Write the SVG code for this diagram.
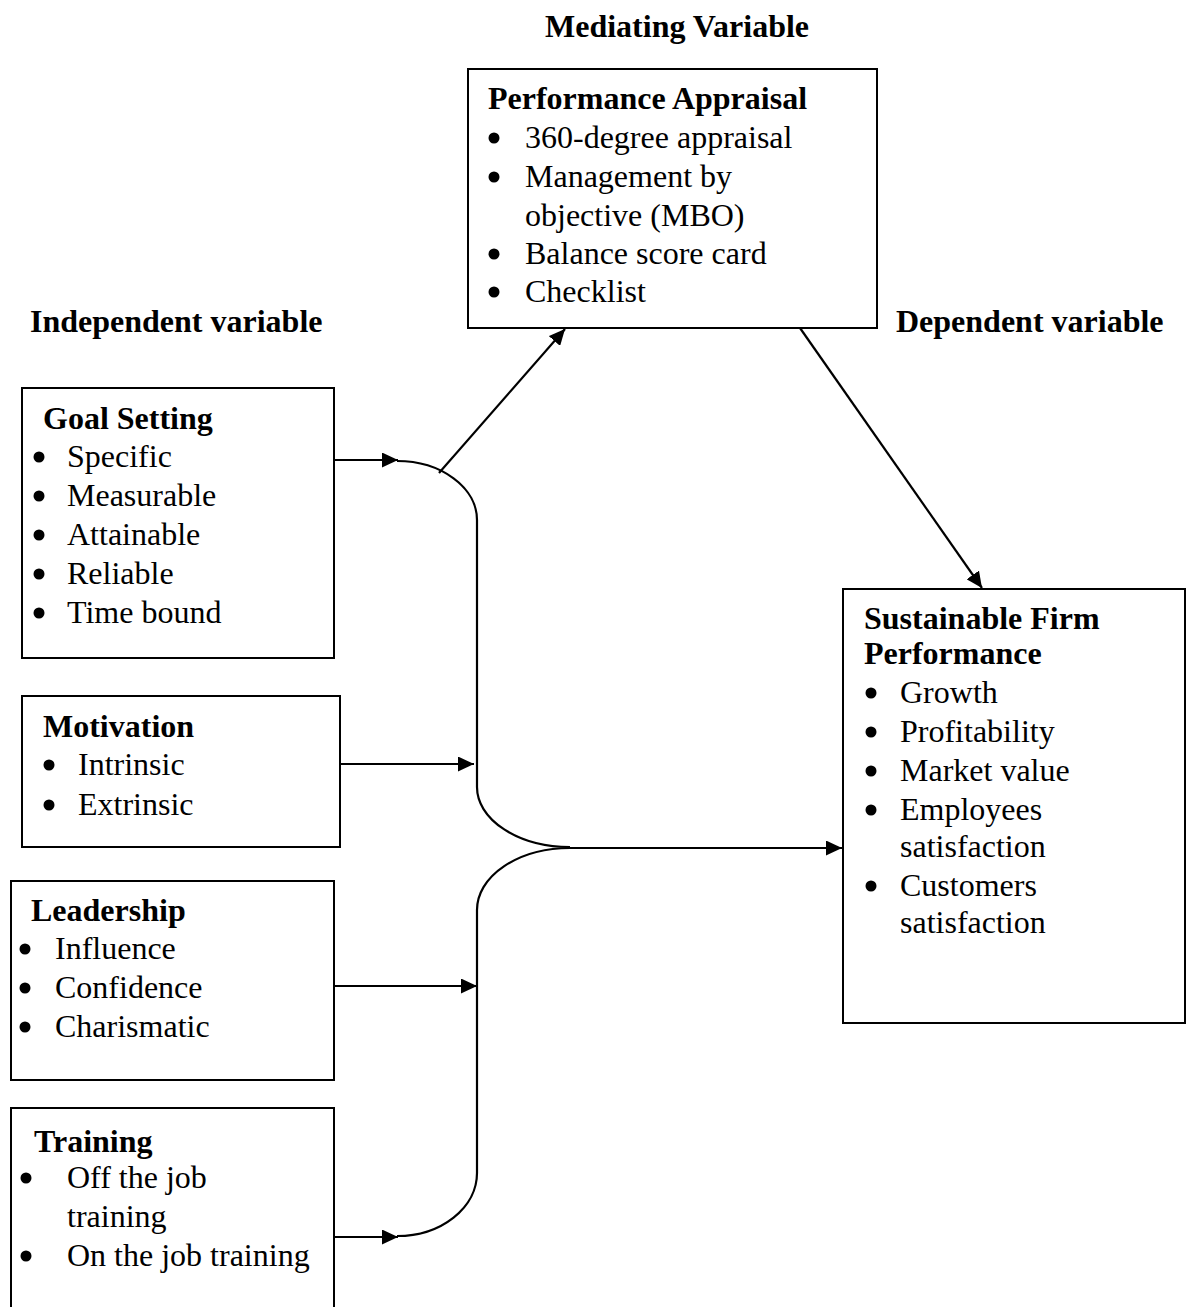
<svg xmlns="http://www.w3.org/2000/svg" width="1186" height="1307" viewBox="0 0 1186 1307">
<style>
text{font-family:"Liberation Serif","Times New Roman",serif;font-size:32px;fill:#000}
.b{font-weight:bold}
.box{fill:none;stroke:#000;stroke-width:2}
.ln{fill:none;stroke:#000;stroke-width:2.2}
.dot{fill:#000}
</style>
<defs>
<marker id="ah" markerUnits="userSpaceOnUse" markerWidth="17" markerHeight="15" refX="16" refY="7.5" orient="auto" viewBox="0 0 17 15">
<path d="M0,0 L16,7.5 L0,15 z" fill="#000"/>
</marker>
</defs>
<rect width="1186" height="1307" fill="#fff"/>
<g id="labels">
<text class="b" x="545" y="37">Mediating Variable</text>
<text class="b" x="30" y="332">Independent variable</text>
<text class="b" x="896" y="332">Dependent variable</text>
</g>
<g id="performance-appraisal">
<rect class="box" x="468" y="69" width="409" height="259"/>
<text class="b" x="488" y="109">Performance Appraisal</text>
<circle class="dot" cx="494" cy="138" r="5.5"/><text x="525" y="148">360-degree appraisal</text>
<circle class="dot" cx="494" cy="177" r="5.5"/><text x="525" y="187">Management by</text>
<text x="525" y="226">objective (MBO)</text>
<circle class="dot" cx="494" cy="254" r="5.5"/><text x="525" y="264">Balance score card</text>
<circle class="dot" cx="494" cy="292" r="5.5"/><text x="525" y="302">Checklist</text>
</g>
<g id="goal-setting">
<rect class="box" x="22" y="388" width="312" height="270"/>
<text class="b" x="43" y="429">Goal Setting</text>
<circle class="dot" cx="39" cy="457" r="5.5"/><text x="67" y="467">Specific</text>
<circle class="dot" cx="39" cy="496" r="5.5"/><text x="67" y="506">Measurable</text>
<circle class="dot" cx="39" cy="535" r="5.5"/><text x="67" y="545">Attainable</text>
<circle class="dot" cx="39" cy="574" r="5.5"/><text x="67" y="584">Reliable</text>
<circle class="dot" cx="39" cy="613" r="5.5"/><text x="67" y="623">Time bound</text>
</g>
<g id="motivation">
<rect class="box" x="22" y="696" width="318" height="151"/>
<text class="b" x="43" y="737">Motivation</text>
<circle class="dot" cx="49" cy="765" r="5.5"/><text x="78" y="775">Intrinsic</text>
<circle class="dot" cx="49" cy="805" r="5.5"/><text x="78" y="815">Extrinsic</text>
</g>
<g id="leadership">
<rect class="box" x="11" y="881" width="323" height="199"/>
<text class="b" x="31" y="921">Leadership</text>
<circle class="dot" cx="25" cy="949" r="5.5"/><text x="55" y="959">Influence</text>
<circle class="dot" cx="25" cy="988" r="5.5"/><text x="55" y="998">Confidence</text>
<circle class="dot" cx="25" cy="1027" r="5.5"/><text x="55" y="1037">Charismatic</text>
</g>
<g id="training">
<rect class="box" x="11" y="1108" width="323" height="215"/>
<text class="b" x="34" y="1152">Training</text>
<circle class="dot" cx="26" cy="1178" r="5.5"/><text x="67" y="1188">Off the job</text>
<text x="67" y="1227">training</text>
<circle class="dot" cx="26" cy="1256" r="5.5"/><text x="67" y="1266">On the job training</text>
</g>
<g id="sustainable-firm-performance">
<rect class="box" x="843" y="589" width="342" height="434"/>
<text class="b" x="864" y="629">Sustainable Firm</text>
<text class="b" x="864" y="664">Performance</text>
<circle class="dot" cx="871" cy="693" r="5.5"/><text x="900" y="703">Growth</text>
<circle class="dot" cx="871" cy="732" r="5.5"/><text x="900" y="742">Profitability</text>
<circle class="dot" cx="871" cy="771" r="5.5"/><text x="900" y="781">Market value</text>
<circle class="dot" cx="871" cy="810" r="5.5"/><text x="900" y="820">Employees</text>
<text x="900" y="857">satisfaction</text>
<circle class="dot" cx="871" cy="886" r="5.5"/><text x="900" y="896">Customers</text>
<text x="900" y="933">satisfaction</text>
</g>
<g id="connectors">
<line class="ln" x1="334" y1="460" x2="398" y2="460" marker-end="url(#ah)"/>
<line class="ln" x1="340" y1="764" x2="474" y2="764" marker-end="url(#ah)"/>
<line class="ln" x1="334" y1="986" x2="477" y2="986" marker-end="url(#ah)"/>
<line class="ln" x1="334" y1="1237" x2="398" y2="1237" marker-end="url(#ah)"/>
<path class="ln" d="M397,461 A80,59 0 0 1 477,520 L477,787 A93,60 0 0 0 570,847"/>
<path class="ln" d="M570,848 A93,62 0 0 0 477,910 L477,1173 A80,63 0 0 1 397,1236"/>
<line class="ln" x1="570" y1="848" x2="842" y2="848" marker-end="url(#ah)"/>
<line class="ln" x1="439" y1="473" x2="565" y2="329" marker-end="url(#ah)"/>
<line class="ln" x1="800" y1="328" x2="982" y2="588" marker-end="url(#ah)"/>
</g>
</svg>
